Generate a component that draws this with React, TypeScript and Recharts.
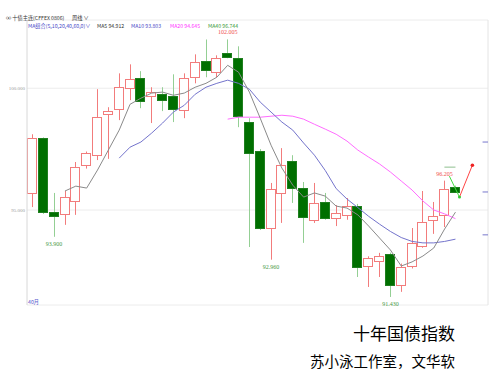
import { ComposedChart, Bar, Line, XAxis, YAxis, CartesianGrid, ReferenceLine, ReferenceDot } from "recharts";

// weekly candles, left to right
const weeks = [
  1, 2, 3, 4, 5, 6, 7, 8, 9, 10, 11, 12, 13, 14, 15, 16, 17, 18, 19, 20,
  21, 22, 23, 24, 25, 26, 27, 28, 29, 30, 31, 32, 33, 34, 35, 36, 37, 38, 39, 40,
];
const opens = [
  95.7, 97.95, 94.92, 94.84, 95.37, 96.84, 97.25, 98.93, 99.14, 100.0,
  100.41, 99.67, 99.75, 99.67, 99.1, 100.45, 101.11, 100.66, 101.43, 101.23,
  98.61, 97.42, 94.26, 95.7, 97.0, 95.9, 94.59, 95.33, 94.67, 94.8,
  95.16, 92.7, 92.91, 93.2, 91.93, 92.7, 93.52, 94.59, 94.8, 95.94,
];
const highs = [
  98.11, 97.98, 95.7, 95.78, 96.97, 97.4, 99.96, 99.22, 100.61, 100.98,
  100.7, 100.04, 100.04, 100.57, 100.61, 101.39, 102.0, 101.35, 102.005, 101.72,
  98.77, 97.5, 96.11, 97.54, 97.25, 96.15, 96.11, 95.7, 95.2, 95.49,
  95.25, 93.1, 93.24, 93.25, 92.8, 94.26, 95.78, 95.33, 96.205, 96.0,
];
const lows = [
  95.12, 94.84, 93.9, 94.39, 94.8, 96.7, 97.05, 97.1, 98.69, 99.51,
  99.18, 98.57, 99.06, 98.61, 98.77, 100.2, 100.45, 100.45, 101.23, 98.4,
  93.48, 94.18, 92.96, 94.47, 95.29, 93.65, 94.47, 94.6, 94.34, 94.6,
  92.25, 91.84, 92.25, 91.43, 91.64, 92.6, 93.45, 94.02, 94.3, 95.7,
];
const closes = [
  97.96, 94.92, 94.75, 95.53, 96.76, 97.34, 98.81, 99.06, 100.04, 100.37,
  99.47, 99.84, 99.51, 99.14, 100.41, 101.07, 100.74, 101.23, 101.27, 98.85,
  97.34, 94.26, 95.86, 96.84, 95.9, 94.71, 95.29, 94.67, 94.88, 95.16,
  92.66, 93.03, 93.11, 91.93, 92.66, 93.65, 94.51, 94.75, 95.86, 95.74,
];
const ma5 = [
  null, null, null, 95.78, 95.98, 95.9, 96.64, 97.46, 98.28, 99.34,
  99.59, 99.8, 99.84, 99.71, 99.8, 100.04, 100.2, 100.45, 100.94, 100.66,
  99.84, 98.77, 97.66, 96.72, 96.02, 95.53, 95.7, 95.57, 95.16, 95.08,
  94.8, 94.34, 93.85, 93.36, 92.7, 92.87, 93.11, 93.44, 94.22, 94.912,
];
const ma10 = [
  null, null, null, null, null, null, null, null, 97.13, 97.58,
  97.79, 98.16, 98.57, 99.02, 99.3, 99.75, 100.04, 100.2, 100.33, 100.2,
  99.96, 99.43, 99.02, 98.61, 98.28, 97.75, 97.25, 96.62, 95.88, 95.45,
  95.1, 94.74, 94.42, 94.12, 93.87, 93.71, 93.65, 93.65, 93.71, 93.803,
];
const ma20 = [
  null, null, null, null, null, null, null, null, null, null,
  null, null, null, null, null, null, null, null, 98.73, 98.81,
  98.81, 98.81, 98.85, 98.89, 98.85, 98.73, 98.52, 98.32, 98.11, 97.83,
  97.46, 97.17, 96.89, 96.56, 96.19, 95.82, 95.37, 95.0, 94.84, 94.645,
];
const priceTicks = [95, 100];

const RED = "#f27c7c";
const GREEN = "#006f00";
const GREEN_WICK = "#94cf94";

const data = weeks.map((i, k) => ({
  i,
  open: opens[k],
  high: highs[k],
  low: lows[k],
  close: closes[k],
  ma5: ma5[k],
  ma10: ma10[k],
  ma20: ma20[k],
}));

function Candle(props: any) {
  const { x, y, width, height, payload } = props;
  const { open, close, high, low } = payload;
  const span = high - low || 1;
  const toPx = (v: number) => y + ((high - v) / span) * height;
  const up = close >= open;
  const cx = Math.round(x + width / 2) + 0.5;
  const top = Math.round(toPx(Math.max(open, close))) + 0.5;
  const bottom = Math.round(toPx(Math.min(open, close))) + 0.5;
  const left = Math.round(x) + 0.5;
  const w = Math.round(width) - 1;
  return (
    <g>
      <line x1={cx} x2={cx} y1={toPx(high)} y2={toPx(low)} stroke={up ? RED : GREEN_WICK} />
      <rect
        x={left}
        y={top}
        width={w}
        height={Math.max(bottom - top, 1)}
        fill={up ? "#fff" : GREEN}
        stroke={up ? RED : "#1f7f1f"}
      />
    </g>
  );
}

const small = {
  position: "absolute" as const,
  fontSize: 5.2,
  lineHeight: "8px",
  whiteSpace: "nowrap" as const,
  fontFamily: "'Noto Sans CJK SC', sans-serif",
};

export default function App() {
  return (
    <div style={{ position: "absolute", left: 0, top: 0, width: 492, height: 380, background: "#fff", overflow: "hidden" }}>
      <ComposedChart width={492} height={380} data={data} margin={{ top: 20, right: 4, bottom: 75, left: 0 }}>
        <CartesianGrid horizontal vertical={false} stroke="#ececec" />
        <XAxis dataKey="i" type="number" domain={[0.5, 43]} hide />
        <YAxis
          domain={[91.1, 102.8]}
          ticks={priceTicks}
          width={27}
          tickSize={0}
          tickMargin={2}
          tickFormatter={(v: number) => v.toFixed(3)}
          tick={{ fontSize: 5, fill: "#999" }}
          axisLine={{ stroke: "#d8d8d8" }}
          tickLine={false}
        />
        <ReferenceLine x={43} stroke="#e4e4e4" />
        <Bar dataKey={(d: any) => [d.low, d.high]} barSize={10} shape={Candle} isAnimationActive={false} />
        <Line dataKey="ma20" stroke="#ff6cff" strokeWidth={1} dot={false} isAnimationActive={false} />
        <Line dataKey="ma10" stroke="#7474cc" strokeWidth={1} dot={false} isAnimationActive={false} />
        <Line dataKey="ma5" stroke="#8a8a8a" strokeWidth={1} dot={false} isAnimationActive={false} />
        <ReferenceDot x={19} y={102.005} r={0} label={{ value: "102.005", position: "top", fill: "#f05050", fontSize: 6 }} />
        <ReferenceDot x={3} y={93.9} r={0} label={{ value: "93.900", position: "bottom", fill: "#4a9a4a", fontSize: 6 }} />
        <ReferenceDot x={23} y={92.96} r={0} label={{ value: "92.960", position: "bottom", fill: "#4a9a4a", fontSize: 6 }} />
        <ReferenceDot x={34} y={91.43} r={0} label={{ value: "91.430", position: "bottom", fill: "#4a9a4a", fontSize: 6 }} />
        <ReferenceDot x={39} y={96.205} r={0} label={{ value: "96.205", position: "top", fill: "#f05050", fontSize: 6 }} />
        <ReferenceLine segment={[{ x: 38.98, y: 96.76 }, { x: 40, y: 96.76 }]} stroke="#8fbf8f" />
        <ReferenceLine segment={[{ x: 39.44, y: 96.39 }, { x: 40.37, y: 95.53 }]} stroke="#44dd44" />
        <ReferenceLine segment={[{ x: 40.37, y: 95.53 }, { x: 41.56, y: 96.84 }]} stroke="#ff4444" />
        <ReferenceDot x={40.37} y={95.53} r={1.5} fill="#33cc33" stroke="none" />
        <ReferenceDot x={41.56} y={96.84} r={1.8} fill="#ee2222" stroke="none" />
        <ReferenceLine segment={[{ x: 42.5, y: 97.79 }, { x: 43, y: 97.79 }]} stroke="#7777cc" />
        <ReferenceLine segment={[{ x: 42.5, y: 95.74 }, { x: 43, y: 95.74 }]} stroke="#7777cc" />
        <ReferenceLine segment={[{ x: 42.5, y: 93.98 }, { x: 43, y: 93.98 }]} stroke="#7777cc" />
      </ComposedChart>

      <div style={{ ...small, left: 6, top: 14, color: "#333" }}>∞ 十债主连(CFFEX 0806)</div>
      <div style={{ ...small, left: 72, top: 14, color: "#333" }}>周线 ∨</div>
      <div style={{ ...small, left: 28, top: 22, color: "#4a4ac8" }}>MA组合(5,10,20,40,60,0)∨</div>
      <div style={{ ...small, left: 97, top: 22, color: "#333" }}>MA5 94.912</div>
      <div style={{ ...small, left: 131, top: 22, color: "#4a4ac8" }}>MA10 93.803</div>
      <div style={{ ...small, left: 170, top: 22, color: "#ff33ff" }}>MA20 94.645</div>
      <div style={{ ...small, left: 208, top: 22, color: "#3a9a3a" }}>MA40 96.744</div>
      <div style={{ ...small, left: 28, top: 298, color: "#5555cc" }}>40月</div>

      <div style={{ position: "absolute", left: 353, top: 324, fontSize: 17, lineHeight: "18px", fontFamily: "'Noto Sans CJK SC', sans-serif", color: "#000" }}>
        十年国债指数
      </div>
      <div style={{ position: "absolute", left: 310, top: 353, fontSize: 14.5, lineHeight: "16px", fontFamily: "'Noto Sans CJK SC', sans-serif", color: "#000" }}>
        苏小泳工作室，文华软
      </div>
    </div>
  );
}
